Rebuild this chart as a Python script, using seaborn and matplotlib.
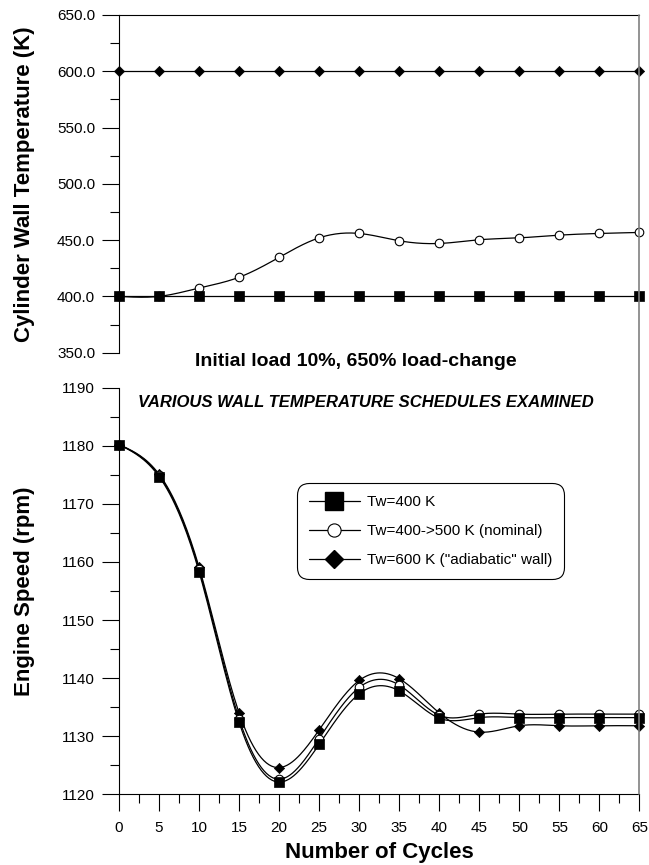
import numpy as np
import pandas as pd
import matplotlib
matplotlib.use("Agg")
import matplotlib.pyplot as plt
from matplotlib.ticker import MultipleLocator, FormatStrFormatter
from matplotlib.lines import Line2D
import seaborn as sns

# ---- data ---------------------------------------------------------------
cycles = [0, 5, 10, 15, 20, 25, 30, 35, 40, 45, 50, 55, 60, 65]

wall_400 = [400.0] * 14
wall_nominal = [400.0, 400.0, 407.4, 417.0, 434.7, 452.0, 455.9,
                449.4, 447.0, 450.3, 452.0, 454.4, 455.9, 456.8]
wall_600 = [600.0] * 14

speed_400 = [1180.2, 1174.7, 1158.3, 1132.4, 1122.1, 1128.6, 1137.3,
             1137.8, 1133.1, 1133.2, 1133.2, 1133.2, 1133.2, 1133.2]
speed_nominal = [1180.2, 1174.9, 1158.7, 1133.0, 1122.6, 1129.6, 1138.4,
                 1138.8, 1133.6, 1133.8, 1133.8, 1133.8, 1133.8, 1133.8]
speed_600 = [1180.2, 1175.1, 1159.1, 1134.0, 1124.6, 1131.1, 1139.6,
             1139.9, 1134.0, 1130.7, 1131.8, 1131.8, 1131.8, 1131.8]

labels = ["Tw=400 K", "Tw=400->500 K (nominal)", 'Tw=600 K ("adiabatic" wall)']


def smooth_curve(x, y, n=400):
    """Natural cubic spline through the points, for drawing the line."""
    x = np.asarray(x, float)
    y = np.asarray(y, float)
    k = len(x)
    h = np.diff(x)
    A = np.zeros((k, k))
    r = np.zeros(k)
    A[0, 0] = A[-1, -1] = 1.0
    for i in range(1, k - 1):
        A[i, i - 1] = h[i - 1]
        A[i, i] = 2 * (h[i - 1] + h[i])
        A[i, i + 1] = h[i]
        r[i] = 6 * ((y[i + 1] - y[i]) / h[i] - (y[i] - y[i - 1]) / h[i - 1])
    M = np.linalg.solve(A, r)
    xs = np.linspace(x[0], x[-1], n)
    idx = np.clip(np.searchsorted(x, xs) - 1, 0, k - 2)
    x0, x1 = x[idx], x[idx + 1]
    hh = x1 - x0
    a = (x1 - xs) / hh
    b = (xs - x0) / hh
    ys = (a * y[idx] + b * y[idx + 1]
          + ((a ** 3 - a) * M[idx] + (b ** 3 - b) * M[idx + 1]) * hh ** 2 / 6)
    return pd.DataFrame({"x": xs, "y": ys})


# ---- style --------------------------------------------------------------
sns.set_theme(style="ticks")
plt.rcParams["font.family"] = ["Liberation Sans", "DejaVu Sans"]
plt.rcParams["axes.linewidth"] = 0.8
for key in ("text.color", "axes.labelcolor", "xtick.color", "ytick.color",
            "axes.edgecolor", "legend.labelcolor"):
    plt.rcParams[key] = "black"

fig = plt.figure(figsize=(6.49, 8.65), dpi=100)
left, width = 0.18336, 0.8020
ax1 = fig.add_axes([left, 0.5923, width, 0.3904])
ax2 = fig.add_axes([left, 0.08173, width, 0.4701])

series_style = {
    "square": dict(marker="s", s=58, color="black", edgecolor="black", linewidth=0.5),
    "circle": dict(marker="o", s=38, color="white", edgecolor="black", linewidth=0.8),
    "diamond": dict(marker="D", s=27, color="black", edgecolor="black", linewidth=0.5),
}


def draw(ax, yvals, style, smooth=True):
    df = pd.DataFrame({"x": cycles, "y": yvals})
    line = smooth_curve(cycles, yvals) if smooth else df
    sns.lineplot(data=line, x="x", y="y", ax=ax, color="black", lw=0.9,
                 sort=False, estimator=None, legend=False)
    sns.scatterplot(data=df, x="x", y="y", ax=ax, legend=False, zorder=4,
                    clip_on=False, **series_style[style])


# ---- top panel: wall temperature ----------------------------------------
draw(ax1, wall_600, "diamond", smooth=False)
draw(ax1, wall_nominal, "circle")
draw(ax1, wall_400, "square", smooth=False)

ax1.set_xlim(0, 65)
ax1.set_ylim(350, 650)
ax1.yaxis.set_major_locator(MultipleLocator(50))
ax1.yaxis.set_minor_locator(MultipleLocator(25))
ax1.yaxis.set_major_formatter(FormatStrFormatter("%.1f"))
ax1.set_xticks([])
ax1.set_xlabel("")
ax1.set_ylabel("Cylinder Wall Temperature (K)", fontsize=16, fontweight="bold")
ax1.spines["bottom"].set_visible(False)
ax1.spines["right"].set_visible(False)

# ---- bottom panel: engine speed -----------------------------------------
draw(ax2, speed_600, "diamond")
draw(ax2, speed_nominal, "circle")
draw(ax2, speed_400, "square")

ax2.set_xlim(0, 65)
ax2.set_ylim(1120, 1190)
ax2.xaxis.set_major_locator(MultipleLocator(5))
ax2.xaxis.set_minor_locator(MultipleLocator(2.5))
ax2.yaxis.set_major_locator(MultipleLocator(10))
ax2.yaxis.set_minor_locator(MultipleLocator(5))
ax2.set_xlabel("Number of Cycles", fontsize=16, fontweight="bold")
ax2.set_ylabel("Engine Speed (rpm)", fontsize=16, fontweight="bold")
ax2.spines["top"].set_visible(False)
ax2.spines["right"].set_visible(False)

for ax in (ax1, ax2):
    ax.tick_params(which="major", direction="out", length=12.2, width=0.8,
                   labelsize=11, pad=5, color="black", labelcolor="black")
    ax.tick_params(which="minor", direction="out", length=6.5, width=0.8,
                   color="black")
    for sp in ax.spines.values():
        sp.set_color("black")
        sp.set_linewidth(0.8)
    ax.yaxis.set_label_coords(-0.162, 0.5)
ax2.tick_params(axis="x", which="major", pad=7)
ax2.xaxis.set_label_coords(0.5, -0.117)

# shared right frame line spanning both panels
xr = left + width
fig.add_artist(Line2D([xr, xr], [0.08173, 0.5923 + 0.3904],
                      transform=fig.transFigure, color="#808080", lw=1.2))

# ---- captions -----------------------------------------------------------
fig.text(356 / 649, 1 - 362 / 865, "Initial load 10%, 650% load-change",
         ha="center", va="center", fontsize=14, fontweight="bold", color="black")
fig.text(366 / 649, 1 - 403 / 865, "VARIOUS WALL TEMPERATURE SCHEDULES EXAMINED",
         ha="center", va="center", fontsize=12, fontweight="bold", style="italic",
         color="black")

# ---- legend -------------------------------------------------------------
handles = [
    Line2D([], [], color="black", lw=0.9, marker="s", ms=12.5,
           mfc="black", mec="black"),
    Line2D([], [], color="black", lw=0.9, marker="o", ms=9.5,
           mfc="white", mec="black", mew=0.8),
    Line2D([], [], color="black", lw=0.9, marker="D", ms=9.0,
           mfc="black", mec="black"),
]
leg = ax2.legend(handles, labels, loc="upper left",
                 bbox_to_anchor=(297 / 649, 1 - 483 / 865),
                 bbox_transform=fig.transFigure, borderaxespad=0,
                 fontsize=11, frameon=True, fancybox=True, handlelength=3.3,
                 handletextpad=0.45, labelspacing=0.98, borderpad=0.8)
frame = leg.get_frame()
frame.set_edgecolor("black")
frame.set_linewidth(0.8)
frame.set_alpha(1)
frame.set_boxstyle("round,pad=0,rounding_size=0.8")

fig.savefig("out.png", dpi=100)
